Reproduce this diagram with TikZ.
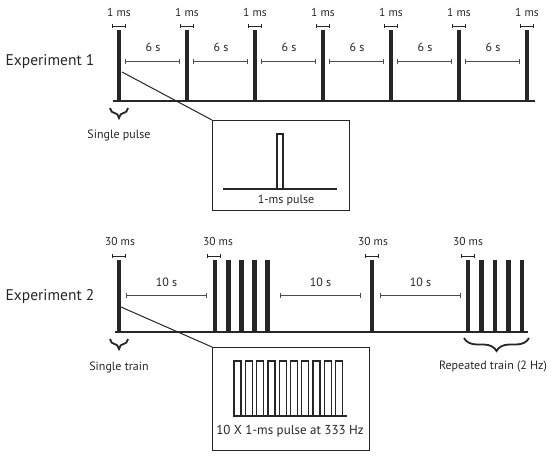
\documentclass[tikz,border=0pt]{standalone}
\usepackage{fontspec}
\setmainfont{PT Sans}
\usetikzlibrary{positioning,arrows.meta,decorations.pathreplacing}

\tikzset{
  bar/.style={line width=4.2pt, color=black!85},
  base/.style={line width=1.7pt, color=black!85},
  span/.style={{Bar[width=5pt]}-{Bar[width=5pt]}, line width=0.9pt, color=black!70},
  tick/.style={{Bar[width=4pt]}-{Bar[width=4pt]}, line width=1pt, color=black!85},
  lab/.style={font=\fontsize{12}{14}\selectfont, text=black!85, inner sep=0pt},
  mslab/.style={font=\fontsize{11.5}{13}\selectfont, text=black!85, inner sep=0pt},
  curly/.style={decorate, decoration={brace, amplitude=#1}, line width=1.8pt, color=black!85},
  inset/.style={line width=1.2pt, color=black!85},
}

\begin{document}
\begin{tikzpicture}[x=1pt, y=-1pt]
\useasboundingbox (0,0) rectangle (554,456);

% Experiment 1
\def\ya{30};
\def\yb{101};
\def\yg{61};
\def\ym{26};

\node[font=\fontsize{15.5}{17}\selectfont, text=black!85] (exp1) at (50,62) {Experiment 1};

\coordinate (s1) at (113,\yb);
\coordinate (e1) at (535,\yb);
\draw[base] (s1) -- (e1);

\foreach \i in {0,...,6} {
  \coordinate (pt\i) at (119+68*\i, \ya);
  \coordinate (pb\i) at (119+68*\i, \yb);
  \draw[bar] (pb\i) -- (pt\i);
  \coordinate (ml\i) at (112+68*\i, \ym);
  \coordinate (mr\i) at (126+68*\i, \ym);
  \draw[tick] (ml\i) -- (mr\i);
  \node[mslab] (ms\i) at (119+68*\i, 12) {1 ms};
}
\foreach \i in {0,...,5} {
  \coordinate (gl\i) at (125+68*\i, \yg);
  \coordinate (gr\i) at (180+68*\i, \yg);
  \draw[span] (gl\i) -- (gr\i);
  \node[lab] (six\i) at (153+68*\i, 47) {6 s};
}

\coordinate (br1r) at (128,108);
\coordinate (br1l) at (110,108);
\draw[curly=10pt] (br1r) -- (br1l);
\node[lab] (single1) at (119,135) {Single pulse};

% zoom box 1
\node[inset, draw, minimum width=137pt, minimum height=90pt, anchor=north west, inner sep=0pt] (box1) at (212,120) {};
\coordinate (from1) at (122,72);
\draw[line width=1pt, black!85] (from1) -- (box1.north west);
\coordinate (ib1l) at (223,189);
\coordinate (ib1r) at (337,189);
\draw[base] (ib1l) -- (ib1r);
\draw[line width=1.2pt, black!85] (277,189) -- (277,134) -- (283,134) -- (283,189);
\node[lab] (one) at (286,200) {1-ms pulse};

% Experiment 2
\def\yc{260};
\def\yd{332};
\def\yh{295};
\def\yn{256};

\node[font=\fontsize{15.5}{17}\selectfont, text=black!85] (exp2) at (50,297) {Experiment 2};

\coordinate (s2) at (115,\yd);
\coordinate (e2) at (528,\yd);
\draw[base] (s2) -- (e2);

\foreach \x in {119, 215, 228.2, 241.4, 254.6, 267.8, 372, 468, 481.5, 495, 508.5, 522} {
  \coordinate (qt) at (\x, \yc);
  \coordinate (qb) at (\x, \yd);
  \draw[bar, line width=4.8pt] (qb) -- (qt);
}
\foreach \x/\n in {119/a, 214/b, 372/c, 468/d} {
  \coordinate (nl\n) at (\x-7, \yn);
  \coordinate (nr\n) at (\x+7, \yn);
  \draw[tick] (nl\n) -- (nr\n);
}
\node[mslab] (tms1) at (120,241) {30 ms};
\node[mslab] (tms2) at (218,241) {30 ms};
\node[mslab] (tms3) at (373,241) {30 ms};
\node[mslab] (tms4) at (468,241) {30 ms};

\foreach \l/\r/\n in {126/207/a, 280/361/b, 380/461/c} {
  \coordinate (hl\n) at (\l, \yh);
  \coordinate (hr\n) at (\r, \yh);
  \draw[span] (hl\n) -- (hr\n);
  \node[lab] (ten\n) at ({(\l+\r)/2}, 282) {10 s};
}

\coordinate (br2r) at (128,339);
\coordinate (br2l) at (110,339);
\draw[curly=10pt] (br2r) -- (br2l);
\node[lab] (single2) at (119,367) {Single train};

\coordinate (br3r) at (529,338);
\coordinate (br3l) at (464,338);
\draw[curly=13pt] (br3r) -- (br3l);
\node[lab] (rep) at (493,367) {Repeated train (2 Hz)};

% zoom box 2
\node[inset, draw, minimum width=157pt, minimum height=103pt, anchor=north west, inner sep=0pt] (box2) at (212,347) {};
\coordinate (from2) at (121,307);
\draw[line width=1pt, black!85] (from2) -- (box2.north west);
\coordinate (ib2l) at (233,416);
\coordinate (ib2r) at (347,416);
\draw[line width=1.4pt, black!85] (ib2l) -- (ib2r);
\foreach \i in {0,...,9} {
  \draw[line width=1.3pt, black!85] (234+11.3*\i,416) -- (234+11.3*\i,361) -- (241+11.3*\i,361) -- (241+11.3*\i,416);
}
\node[lab, font=\fontsize{13}{15}\selectfont] (train) at (290,431) {10 X 1-ms pulse at 333 Hz};

\end{tikzpicture}
\end{document}
